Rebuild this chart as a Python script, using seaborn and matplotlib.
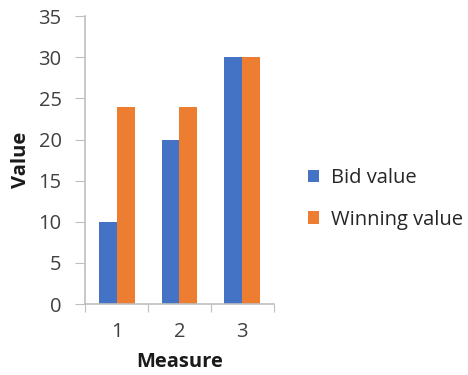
import matplotlib
matplotlib.use("Agg")
import matplotlib.pyplot as plt
import seaborn as sns
import pandas as pd

measures = ["1", "2", "3"]
bid_values = [10, 20, 30]
winning_values = [24, 24, 30]
series_names = ["Bid value", "Winning value"]
y_ticks = [0, 5, 10, 15, 20, 25, 30, 35]

df = pd.DataFrame({
    "Measure": measures * 2,
    "Value": bid_values + winning_values,
    "Series": [series_names[0]] * 3 + [series_names[1]] * 3,
})

sns.set_style("white")
plt.rcParams["font.family"] = ["Open Sans", "DejaVu Sans"]

fs = 14.5
fig = plt.figure(figsize=(4.68, 3.75), dpi=100)
ax = fig.add_axes([0.182, 0.189, 0.403, 0.768])

sns.barplot(data=df, x="Measure", y="Value", hue="Series",
            palette=["#4472C4", "#ED7D31"], width=0.57, saturation=1,
            linewidth=0, edgecolor="none", ax=ax, legend=True)

ax.set_ylim(0, 35)
ax.set_yticks(y_ticks)
ax.set_xlim(-0.5, 2.5)
ax.set_xticks([-0.5, 0.5, 1.5, 2.5], minor=False)
ax.set_xticklabels([])
ax.set_xticks([0, 1, 2], minor=True)
ax.set_xticklabels(measures, minor=True)

spine_color = "#BFBFBF"
for side in ["top", "right"]:
    ax.spines[side].set_visible(False)
for side in ["left", "bottom"]:
    ax.spines[side].set_color(spine_color)
    ax.spines[side].set_linewidth(1.2)

ax.tick_params(axis="y", which="major", direction="out", length=7,
               color=spine_color, labelsize=fs, labelcolor="#404040", pad=10, left=True)
ax.tick_params(axis="x", which="major", direction="out", length=6,
               color=spine_color, bottom=True)
ax.tick_params(axis="x", which="minor", length=0, labelsize=fs,
               labelcolor="#404040", pad=13)

ax.set_xlabel("Measure", fontsize=fs, fontweight="bold", color="#1a1a1a", labelpad=7)
ax.set_ylabel("Value", fontsize=fs, fontweight="bold", color="#1a1a1a", labelpad=5)

handles, labels = ax.get_legend_handles_labels()
ax.legend(handles, labels, loc="center left", bbox_to_anchor=(1.14, 0.365),
          frameon=False, fontsize=fs, handlelength=0.55, handleheight=0.55,
          handletextpad=0.6, labelspacing=1.05, labelcolor="#262626",
          borderaxespad=0)

fig.savefig("out.png", dpi=100)
